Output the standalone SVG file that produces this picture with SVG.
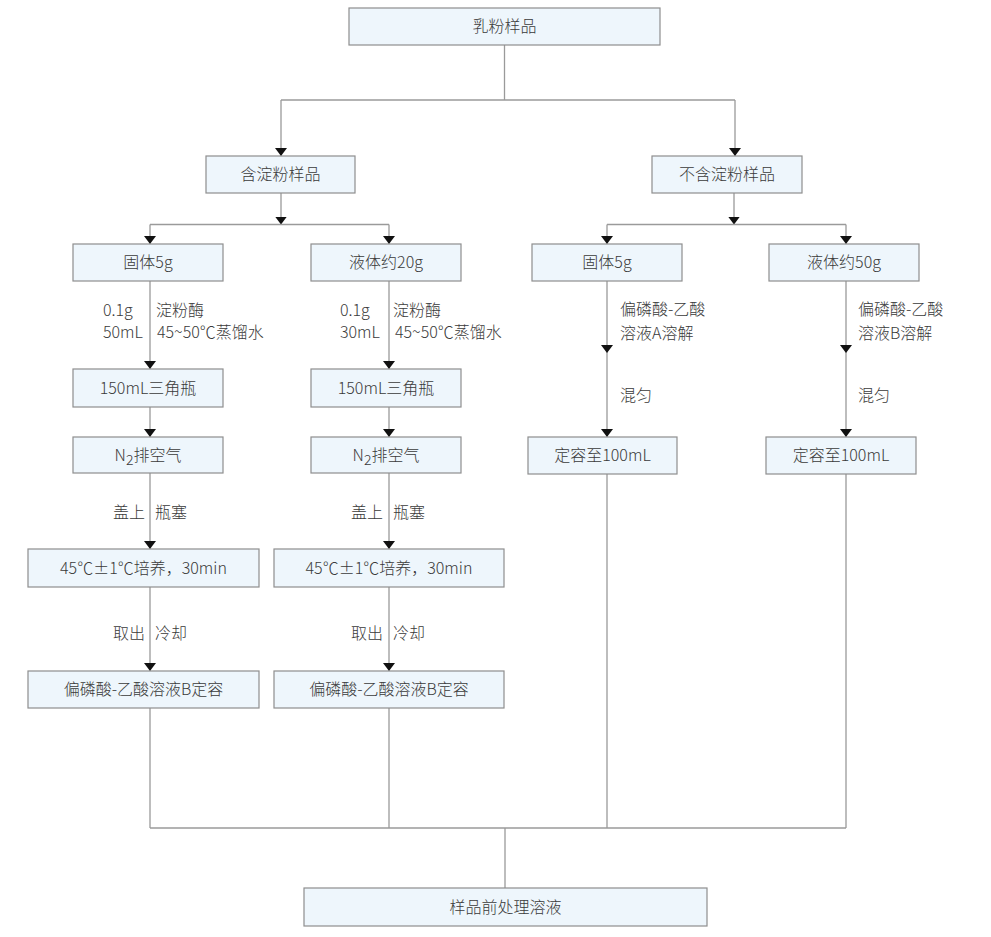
<svg xmlns="http://www.w3.org/2000/svg" width="991" height="937" viewBox="0 0 991 937">
<defs>
<marker id="arr" markerUnits="userSpaceOnUse" markerWidth="8" markerHeight="12" viewBox="0 0 8 12" refX="8" refY="6" orient="auto">
<path d="M0,0 L8,6 L0,12 z" fill="#111"/>
</marker>
<style>
.box{fill:#eef6fc;stroke:#8e8e8e;stroke-width:1.2}
.t{font-family:"Noto Sans CJK SC","Noto Sans",sans-serif;font-size:16px;font-weight:300;fill:#3a3a3a;text-anchor:middle}
.l{font-family:"Noto Sans CJK SC","Noto Sans",sans-serif;font-size:16px;font-weight:300;fill:#3a3a3a}
.r{text-anchor:end}
.c path{fill:none;stroke:#9a9a9a;stroke-width:1.3}
.c .a{marker-end:url(#arr)}
</style>
</defs>
<rect width="991" height="937" fill="#fff"/>
<g class="c" id="connectors">
<path d="M504.5,45 V100"/><path d="M281,100 H735"/>
<path class="a" d="M281,100 V156"/><path class="a" d="M735,100 V156"/>
<path class="a" d="M281,193 V224.5"/><path d="M150,224.5 H389"/>
<path class="a" d="M150,224.5 V244"/><path class="a" d="M389,224.5 V244"/>
<path class="a" d="M734,193 V224.5"/><path d="M607,224.5 H846"/>
<path class="a" d="M607,224.5 V244"/><path class="a" d="M846,224.5 V244"/>
<path class="a" d="M150,281 V369"/><path class="a" d="M150,407 V437"/><path class="a" d="M150,473 V549"/><path class="a" d="M150,587 V671"/><path d="M150,708 V828"/>
<path class="a" d="M389,281 V369"/><path class="a" d="M389,407 V437"/><path class="a" d="M389,473 V549"/><path class="a" d="M389,587 V671"/><path d="M389,708 V828"/>
<path class="a" d="M607,281 V353"/><path class="a" d="M607,353 V437"/><path d="M607,474 V828"/>
<path class="a" d="M846,281 V353"/><path class="a" d="M846,353 V437"/><path d="M846,474 V828"/>
<path d="M150,828 H846"/><path d="M505,828 V888"/>
</g>
<g id="n-top"><rect class="box" x="349" y="8" width="311" height="37"/><text class="t" x="504.5" y="32">乳粉样品</text></g>
<g id="n-starch"><rect class="box" x="206" y="156" width="149" height="37"/><text class="t" x="280.5" y="180">含淀粉样品</text></g>
<g id="n-nostarch"><rect class="box" x="652" y="156" width="150" height="37"/><text class="t" x="727" y="180">不含淀粉样品</text></g>
<g id="n-s1"><rect class="box" x="73" y="244" width="150" height="37"/><text class="t" x="148" y="268">固体5g</text></g>
<g id="n-s2"><rect class="box" x="311" y="244" width="150" height="37"/><text class="t" x="386" y="268">液体约20g</text></g>
<g id="n-n1"><rect class="box" x="532" y="244" width="150" height="37"/><text class="t" x="607" y="268">固体5g</text></g>
<g id="n-n2"><rect class="box" x="769" y="244" width="150" height="37"/><text class="t" x="844" y="268">液体约50g</text></g>
<g id="n-s1b"><rect class="box" x="73" y="369" width="150" height="38"/><text class="t" x="148" y="393.5">150mL三角瓶</text></g>
<g id="n-s2b"><rect class="box" x="311" y="369" width="150" height="38"/><text class="t" x="386" y="393.5">150mL三角瓶</text></g>
<g id="n-s1c"><rect class="box" x="73" y="437" width="150" height="36"/><text class="t" x="148" y="460.5">N<tspan font-size="14" dy="4">2</tspan><tspan dy="-4">排空气</tspan></text></g>
<g id="n-s2c"><rect class="box" x="311" y="437" width="150" height="36"/><text class="t" x="386" y="460.5">N<tspan font-size="14" dy="4">2</tspan><tspan dy="-4">排空气</tspan></text></g>
<g id="n-n1b"><rect class="box" x="528" y="437" width="149" height="37"/><text class="t" x="602.5" y="461">定容至100mL</text></g>
<g id="n-n2b"><rect class="box" x="766" y="437" width="150" height="37"/><text class="t" x="841" y="461">定容至100mL</text></g>
<g id="n-s1d"><rect class="box" x="28" y="549" width="231" height="38"/><text class="t" x="143.5" y="573.5">45℃±1℃培养，30min</text></g>
<g id="n-s2d"><rect class="box" x="274" y="549" width="230" height="38"/><text class="t" x="389" y="573.5">45℃±1℃培养，30min</text></g>
<g id="n-s1e"><rect class="box" x="28" y="671" width="231" height="37"/><text class="t" x="143.5" y="695">偏磷酸-乙酸溶液B定容</text></g>
<g id="n-s2e"><rect class="box" x="274" y="671" width="230" height="37"/><text class="t" x="389" y="695">偏磷酸-乙酸溶液B定容</text></g>
<g id="n-final"><rect class="box" x="304" y="888" width="403" height="38"/><text class="t" x="505.5" y="912.5">样品前处理溶液</text></g>
<g id="labels">
<text class="l" x="103" y="315.5">0.1g</text><text class="l" x="103" y="338">50mL</text>
<text class="l" x="156" y="315.5">淀粉酶</text><text class="l" x="157" y="338">45~50℃蒸馏水</text>
<text class="l" x="340" y="315.5">0.1g</text><text class="l" x="340" y="338">30mL</text>
<text class="l" x="393" y="315.5">淀粉酶</text><text class="l" x="395" y="338">45~50℃蒸馏水</text>
<text class="l r" x="145" y="517.5">盖上</text><text class="l" x="155" y="517.5">瓶塞</text>
<text class="l r" x="383" y="517.5">盖上</text><text class="l" x="393" y="517.5">瓶塞</text>
<text class="l r" x="145" y="638.5">取出</text><text class="l" x="155" y="638.5">冷却</text>
<text class="l r" x="383" y="638.5">取出</text><text class="l" x="393" y="638.5">冷却</text>
<text class="l" x="620" y="314.5">偏磷酸-乙酸</text><text class="l" x="620" y="338.5">溶液A溶解</text><text class="l" x="620" y="400.5">混匀</text>
<text class="l" x="858" y="314.5">偏磷酸-乙酸</text><text class="l" x="858" y="338.5">溶液B溶解</text><text class="l" x="858" y="400.5">混匀</text>
</g>
</svg>
